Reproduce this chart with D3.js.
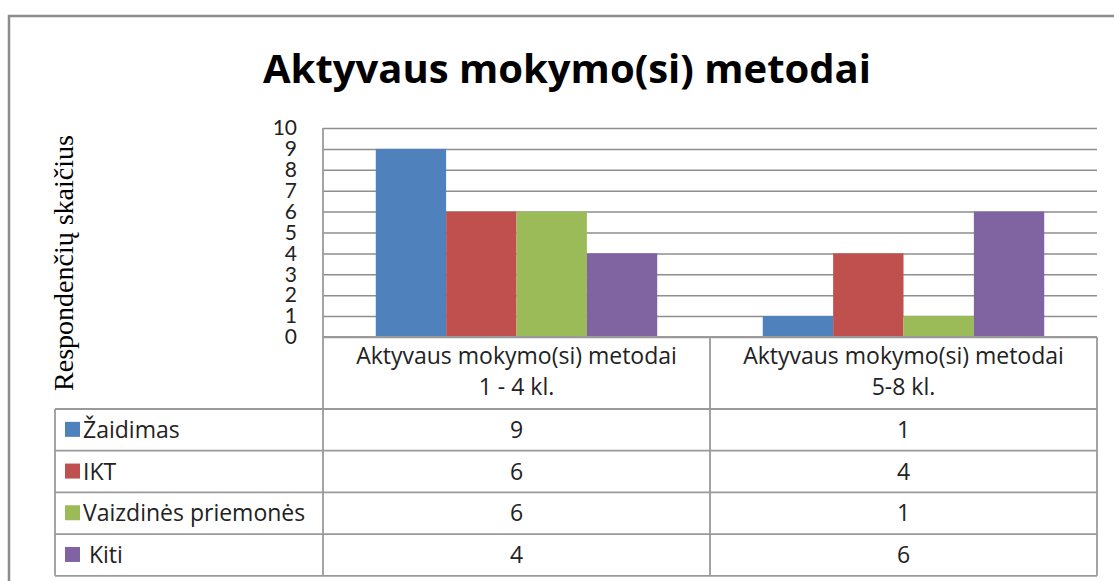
<!DOCTYPE html>
<html>
<head>
<meta charset="utf-8">
<script src="https://cdn.jsdelivr.net/npm/d3@7"></script>
<style>
  body { margin: 0; background: #fff; }
  svg { display: block; }
  text { font-family: "Open Sans", Lato, sans-serif; fill: #222; }
</style>
</head>
<body>
<div id="chart"></div>
<script>
// data
var categories = [["Aktyvaus mokymo(si) metodai", "1 - 4 kl."], ["Aktyvaus mokymo(si) metodai", "5-8 kl."]];
var series = ["Žaidimas", "IKT", "Vaizdinės priemonės", " Kiti"];
var values = [[9, 1], [6, 4], [6, 1], [4, 6]];   // one row per series, one value per category
var colors = ["#4F81BD", "#C0504D", "#9BBB59", "#8064A2"];
var yTicks = [0, 1, 2, 3, 4, 5, 6, 7, 8, 9, 10];

var W = 1114, H = 581;
var plotLeft = 323, plotRight = 1097, plotTop = 128, plotBottom = 337;
var tableLeft = 55, catRowBottom = 409, rowH = 41.7;

var svg = d3.select("#chart").append("svg")
            .attr("width", W)
            .attr("height", H);

// outer frame
svg.append("rect")
   .attr("x", 9).attr("y", 16)
   .attr("width", W + 20).attr("height", H + 20)
   .style("fill", "none")
   .style("stroke", "#8c8c8c")
   .style("stroke-width", 2.5);

// title
svg.append("text")
   .attr("x", 567).attr("y", 83)
   .attr("text-anchor", "middle")
   .style("font-size", "40px")
   .style("font-weight", "bold")
   .style("fill", "#000")
   .text("Aktyvaus mokymo(si) metodai");

var catIdx = categories.map(function(d, i){ return i; });
var x0 = d3.scaleBand().domain(catIdx).range([plotLeft, plotRight]);
var x1 = d3.scaleBand().domain(d3.range(series.length))
           .range([0, x0.bandwidth()]).paddingOuter(0.75);
var y = d3.scaleLinear().domain([0, 10]).range([plotBottom, plotTop]);

// gridlines
var grid = svg.append("g")
              .attr("transform", "translate(" + plotLeft + ",0)")
              .call(d3.axisLeft(y).tickValues(yTicks).tickSize(-(plotRight - plotLeft)).tickFormat(""));
grid.select(".domain").remove();
grid.selectAll("line").style("stroke", "#8e8e8e").style("stroke-width", 1.5);

// bars
series.forEach(function(s, si){
	svg.append("g").selectAll("rect")
	   .data(values[si])
	   .enter().append("rect")
	   .attr("x", function(d, ci){ return x0(ci) + x1(si); })
	   .attr("y", function(d){ return y(d); })
	   .attr("width", x1.bandwidth())
	   .attr("height", function(d){ return y(0) - y(d); })
	   .style("fill", colors[si]);
});

// y axis labels
var yAxis = svg.append("g")
               .attr("transform", "translate(" + (plotLeft - 26) + ",0)")
               .call(d3.axisLeft(y).tickValues(yTicks).tickSize(0).tickPadding(0));
yAxis.select(".domain").remove();
yAxis.selectAll("text")
     .style("font-size", "21px")
     .style("font-family", "Lato, sans-serif")
     .style("fill", "#222");

// y title
svg.append("text")
   .attr("transform", "translate(73,263) rotate(-90)")
   .attr("text-anchor", "middle")
   .style("font-family", "'Liberation Serif', 'Times New Roman', serif")
   .style("font-size", "28px")
   .style("fill", "#000")
   .text("Respondenčių skaičius");

// data table
var lineCol = "#9a9a9a";
var tbl = svg.append("g").style("stroke", lineCol).style("stroke-width", 1.8);
var rowY = d3.range(series.length + 1).map(function(i){ return catRowBottom + i * rowH; });
var tableBottom = rowY[rowY.length - 1];

tbl.append("line").attr("x1", plotLeft).attr("x2", plotLeft).attr("y1", plotTop).attr("y2", tableBottom);
catIdx.forEach(function(ci){
	var xr = x0(ci) + x0.bandwidth();
	tbl.append("line").attr("x1", xr).attr("x2", xr).attr("y1", plotBottom).attr("y2", tableBottom);
});
tbl.append("line").attr("x1", plotLeft).attr("x2", plotRight).attr("y1", plotBottom).attr("y2", plotBottom);
tbl.append("line").attr("x1", tableLeft).attr("x2", tableLeft).attr("y1", catRowBottom).attr("y2", tableBottom);
tbl.selectAll(".hrow").data(rowY).enter().append("line")
   .attr("x1", tableLeft).attr("x2", plotRight)
   .attr("y1", function(d){ return d; }).attr("y2", function(d){ return d; });

// category labels
categories.forEach(function(c, ci){
	var cx = x0(ci) + x0.bandwidth() / 2;
	var t = svg.append("text")
	           .attr("text-anchor", "middle")
	           .style("font-size", "23px");
	t.append("tspan").attr("x", cx).attr("y", 364).text(c[0]);
	t.append("tspan").attr("x", cx).attr("y", 395).text(c[1]);
});

// legend keys + values
series.forEach(function(s, si){
	var cy = rowY[si] + rowH / 2;
	svg.append("rect")
	   .attr("x", 65).attr("y", cy - 8)
	   .attr("width", 15).attr("height", 15)
	   .style("fill", colors[si]);
	svg.append("text")
	   .attr("x", 83).attr("y", cy)
	   .attr("dy", "0.35em")
	   .attr("xml:space", "preserve")
	   .style("white-space", "pre")
	   .style("font-size", "23px")
	   .text(s);
	values[si].forEach(function(v, ci){
		svg.append("text")
		   .attr("x", x0(ci) + x0.bandwidth() / 2).attr("y", cy)
		   .attr("dy", "0.35em")
		   .attr("text-anchor", "middle")
		   .style("font-size", "23px")
		   .text(v);
	});
});
</script>
</body>
</html>
